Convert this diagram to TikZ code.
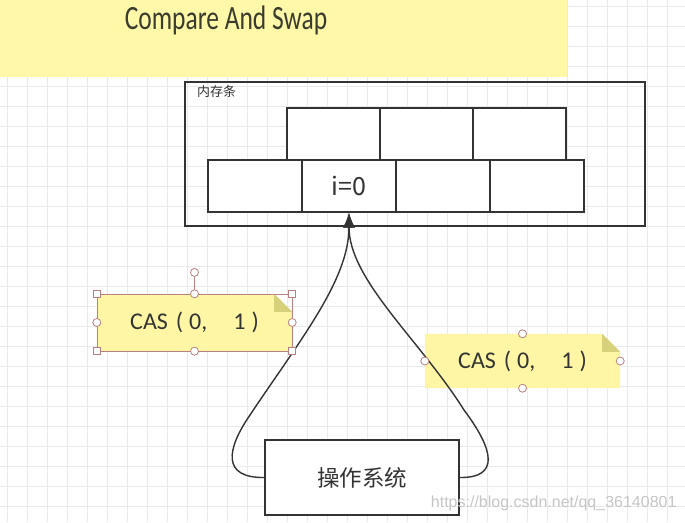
\documentclass[tikz,border=0pt]{standalone}
\usepackage{fontspec}
\setmainfont{Carlito}
\newfontfamily\titlefont[FakeStretch=0.75]{Carlito}
\newfontfamily\cjk{Noto Sans CJK SC}
\newfontfamily\wmfont{Liberation Sans}
\usetikzlibrary{arrows.meta, positioning, backgrounds}

\definecolor{titlefill}{HTML}{FFF8A8}
\definecolor{notefill}{HTML}{FFF6A5}
\definecolor{notefold}{HTML}{D8D17C}
\definecolor{gridline}{HTML}{EAEAEA}
\definecolor{handlecol}{HTML}{B88080}
\definecolor{inkcol}{HTML}{333333}

\tikzset{
  cell/.style={draw=inkcol, line width=1.4pt, fill=white, minimum width=93pt,
    minimum height=52pt, inner sep=0pt},
  framebox/.style={draw=inkcol, line width=1.4pt, inner sep=0pt},
  casnote/.style={minimum width=195pt, inner sep=0pt, text=inkcol,
    font=\fontsize{24}{24}\selectfont},
  handlesq/.style={draw=handlecol, fill=white, line width=0.8pt, minimum size=7pt, inner sep=0pt},
  handlecirc/.style={circle, draw=handlecol, fill=white, line width=0.8pt, minimum size=8pt, inner sep=0pt},
  curvearrow/.style={draw=inkcol, line width=1.4pt, -{Latex[length=15pt,width=12pt]}}
}
\newcommand{\castext}{CAS\hspace{8pt}(\hspace{6pt}0,\hspace{26pt}1\hspace{6pt})}

\begin{document}
\begin{tikzpicture}[x=1pt, y=-1pt]

\useasboundingbox (0,0) rectangle (685,522);

% background grid
\begin{scope}[on background layer]
  \fill[white] (0,0) rectangle (685,522);
  \foreach \x in {7,27,...,685}
  {
      \draw[gridline, line width=0.8pt] (\x,0) -- (\x,522);
  }
  \foreach \y in {6,26,...,522}
  {
      \draw[gridline, line width=0.8pt] (0,\y) -- (685,\y);
  }
\end{scope}

% title banner
\fill[titlefill] (0,0) rectangle (567,77);
\node[text=inkcol!90!olive, font=\titlefont\fontsize{34}{34}\selectfont] (title) at (226,20) {Compare And Swap};

% memory strip
\node[framebox, minimum width=460pt, minimum height=144pt] (mem) at (415,154) {};
\node[anchor=north west, inner sep=0pt, text=inkcol, font=\cjk\fontsize{13}{13}\selectfont] (memlabel) at (197,85) {内存条};

% upper row of cells
\foreach \i in {0,...,2}
{
    \node[cell] (t\i) at (333.5+93*\i,134) {};
}

% lower row of cells
\foreach \i in {0,...,3}
{
    \node[cell, minimum width=94pt] (b\i) at (255+94*\i,186) {};
}
\node at (b1) [font=\cjk\fontsize{25}{25}\selectfont, text=inkcol] (ival) {i=0};

% operating system
\node[framebox, fill=white, minimum width=194pt, minimum height=75pt,
  font=\cjk\fontsize{22.5}{22.5}\selectfont, text=inkcol] (os) at (362,477.5) {操作系统};

% the two CAS calls
\draw[curvearrow] (os.west) .. controls (222,478) and (226,450) .. (250,415)
  .. controls (300,340) and (349,280) .. (b1.south);
\draw[curvearrow] (os.east) .. controls (500,478) and (494,450) .. (464,410)
  .. controls (420,340) and (349,280) .. (b1.south);

% note 1 (selected)
\node[casnote, minimum height=57pt] (cas1) at (194.5,322.5) {\castext};
% note 2
\node[casnote, minimum height=54pt] (cas2) at (522.5,361) {\castext};

\begin{scope}[on background layer]
  \foreach \n in {cas1,cas2}
  {
      \fill[notefill] (\n.south west) -- (\n.north west) -- ([xshift=-18pt]\n.north east)
        -- ([yshift=-18pt]\n.north east) -- (\n.south east) -- cycle;
      \fill[notefold] ([xshift=-18pt]\n.north east) -- ([xshift=-18pt,yshift=-18pt]\n.north east)
        -- ([yshift=-18pt]\n.north east) -- cycle;
  }
\end{scope}

% selection handles
\draw[handlecol, line width=0.6pt] (cas1.south west) rectangle (cas1.north east);
\node[handlecirc, above=17pt of cas1.north] (rot1) {};
\draw[handlecol, line width=0.8pt] (rot1) -- (cas1.north);
\foreach \a in {north west,north east,south west,south east}
{
    \node[handlesq] at (cas1.\a) {};
}
\foreach \a in {north,south,west,east}
{
    \node[handlecirc] at (cas1.\a) {};
    \node[handlecirc] at (cas2.\a) {};
}

% watermark
\node[anchor=east, text=gray!45, font=\wmfont\fontsize{16}{16}\selectfont] (mark) at (680,503) {https://blog.csdn.net/qq\_36140801};

\end{tikzpicture}
\end{document}
